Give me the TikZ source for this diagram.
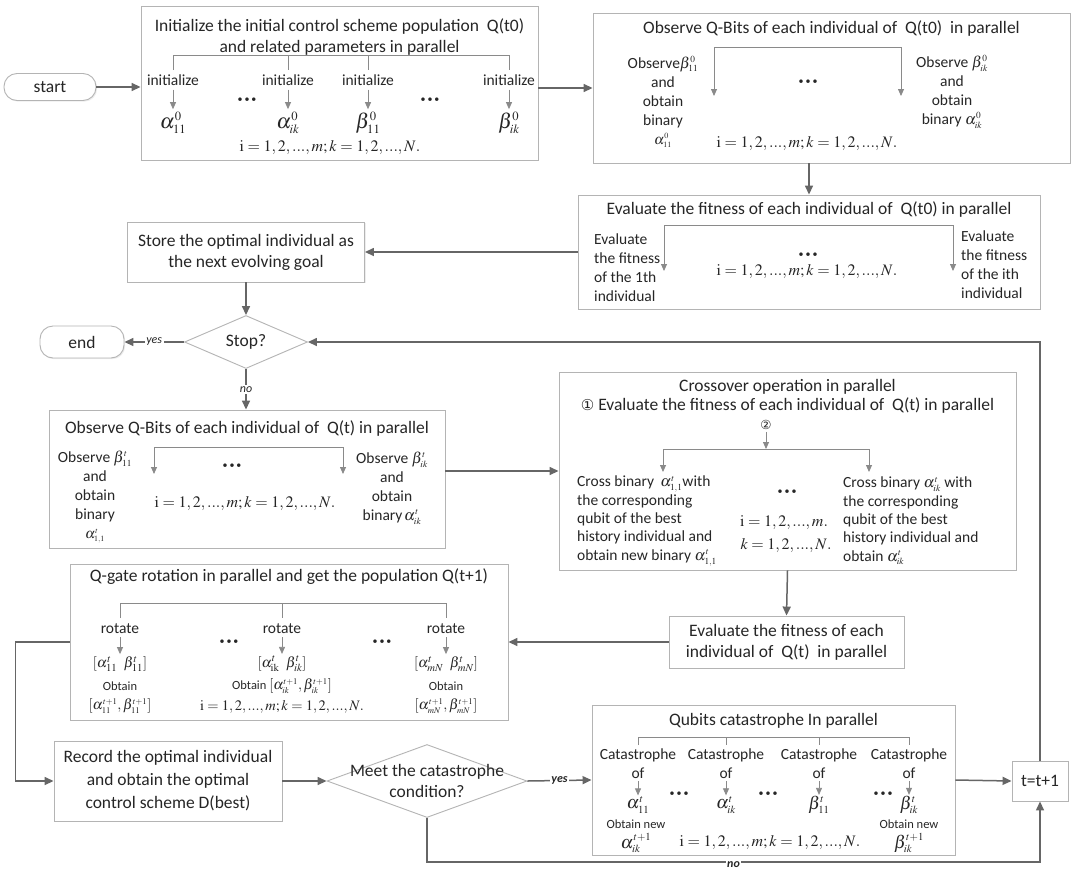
\documentclass[tikz,border=0pt]{standalone}
\usepackage{mathptmx}
\usepackage[no-math]{fontspec}
\setmainfont{Carlito}
\newfontfamily\dejavu{DejaVu Sans}
\usetikzlibrary{arrows.meta,shapes.geometric,shadows}
\definecolor{boxline}{HTML}{B4B4B4}
\definecolor{conn}{HTML}{666666}
\definecolor{inner}{HTML}{8A8A8A}
\definecolor{txt}{HTML}{262626}
\newcommand{\myss}{\scriptscriptstyle}
\newcommand{\mydots}{{\fontsize{10}{10}\selectfont •\hspace{2pt}•\hspace{2pt}•}}
\newcommand{\irange}{$\mathrm{i}=1,2,...,m;k=1,2,...,N.$}
\begin{document}
\begin{tikzpicture}[x=1pt,y=-1pt,
  every node/.style={text=txt, inner sep=0pt},
  bx/.style={draw=boxline, line width=0.9pt, fill=white, drop shadow={shadow xshift=1.2pt, shadow yshift=-1.2pt, fill=black, opacity=0.07}},
  term/.style={bx, rounded corners=13pt},
  dm/.style={diamond, draw=boxline, line width=0.9pt, fill=white},
  ttl/.style={font=\fontsize{17.5}{21}\selectfont, align=center},
  lab/.style={font=\fontsize{15.5}{19}\selectfont, align=center},
  sm/.style={font=\fontsize{12.5}{14}\selectfont, align=center},
  mth/.style={font=\fontsize{16}{18}\selectfont},
  qm/.style={font=\fontsize{14.5}{16}\selectfont},
  big/.style={font=\fontsize{21}{22}\selectfont},
  cbig/.style={font=\fontsize{18}{19}\selectfont},
  cn/.style={draw=conn, line width=1.5pt, -{Triangle[length=9pt,width=8pt]}},
  brk/.style={draw=inner, line width=0.8pt},
  brka/.style={brk, -{Triangle[length=7pt,width=6pt]}},
  brkaa/.style={brk, {Triangle[length=7pt,width=6pt]}-{Triangle[length=7pt,width=6pt]}},
  yl/.style={fill=white, font=\fontsize{12}{12}\selectfont\itshape, inner sep=1.5pt},
]
\fill[white] (0,0) rectangle (1086,876);
\useasboundingbox (0,0) rectangle (1086,876);

% ---------- boxes ----------
\node[term, minimum width=92pt, minimum height=27pt, ttl] (start) at (50,87) {start};
\node[bx, minimum width=397pt, minimum height=154pt] (b1) at (339.5,83) {};
\node[bx, minimum width=477pt, minimum height=150pt] (b2) at (831.5,88) {};
\node[bx, minimum width=462pt, minimum height=114pt] (e1) at (809,252) {};
\node[bx, minimum width=237pt, minimum height=60pt, ttl] (st) at (246,252) {Store the optimal individual as\\the next evolving goal};
\node[dm, minimum width=123pt, minimum height=53pt] (stop) at (246,342) {};
\node[ttl] at (stop) {Stop?};
\node[term, minimum width=84pt, minimum height=32pt, ttl] (end) at (82,342) {end};
\node[bx, minimum width=396pt, minimum height=138pt] (ob) at (247,479) {};
\node[bx, minimum width=457pt, minimum height=198pt] (cr) at (787.5,471) {};
\node[bx, minimum width=235pt, minimum height=52pt, ttl] (e2) at (786.5,642) {Evaluate the fitness of each\\individual of \ Q(t) \ in parallel};
\node[bx, minimum width=438pt, minimum height=156pt] (qg) at (289,642) {};
\node[bx, minimum width=228pt, minimum height=80pt, font=\fontsize{17.5}{23}\selectfont, align=center] (rec) at (168,781) {Record the optimal individual\\and obtain the optimal\\control scheme D(best)};
\node[dm, minimum width=200pt, minimum height=73pt] (meet) at (427,781) {};
\node[ttl] at (meet) {Meet the catastrophe\\condition?};
\node[bx, minimum width=363pt, minimum height=150pt] (cat) at (773.5,780) {};
\node[bx, minimum width=56pt, minimum height=40pt, ttl] (tt) at (1040,781) {t=t+1};

% ---------- box 1 contents ----------
\node[ttl] at (339.5,37) {Initialize the initial control scheme population \ Q(t0)\\and related parameters in parallel};
\draw[brk] (173,70) |- (509,55) -- (509,70);
\draw[brk] (288,55) -- (288,70);
\draw[brk] (368,55) -- (368,70);
\node[lab] (i1) at (173,80) {initialize};
\node[lab] (i2) at (288,80) {initialize};
\node[lab] (i3) at (368,80) {initialize};
\node[lab] (i4) at (509,80) {initialize};
\node[big] (a1) at (173,123) {$\alpha^{\myss 0}_{\myss 11}$};
\node[big] (a2) at (288,123) {$\alpha^{\myss 0}_{\myss ik}$};
\node[big] (a3) at (368,123) {$\beta^{\myss 0}_{\myss 11}$};
\node[big] (a4) at (509,123) {$\beta^{\myss 0}_{\myss ik}$};
\foreach \p in {1,2,3,4}{\draw[brka, shorten <=4pt, shorten >=3pt] (i\p.south) -- (a\p.north);}
\node at (247,100) {\mydots};
\node at (430,100) {\mydots};
\node[mth] at (330,148) {\irange};

% ---------- box 2 contents ----------
\node[ttl] at (831.5,29) {Observe Q-Bits of each individual of \ Q(t0) \ in parallel};
\draw[brkaa] (714,96) |- (901,47) -- (901,96);
\node[lab] at (663,102) {Observe$\beta^{\myss 0}_{\myss 11}$\\and\\obtain\\binary\\{\Large$\alpha^{\myss 0}_{\myss 11}$}};
\node[lab] at (952,92) {Observe $\beta^{\myss 0}_{\myss ik}$\\and\\obtain\\binary $\alpha^{\myss 0}_{\myss ik}$};
\node at (808,82) {\mydots};
\node[mth] at (807,144) {\irange};

% ---------- evaluate 1 contents ----------
\node[ttl] at (809,210) {Evaluate the fitness of each individual of \ Q(t0) in parallel};
\draw[brkaa] (664,271) |- (953,225) -- (953,271);
\node[lab, align=left, anchor=west] at (594,268) {Evaluate\\the fitness\\of the 1th\\individual};
\node[lab, align=left, anchor=west] at (961,265) {Evaluate\\the fitness\\of the ith\\individual};
\node at (808,255) {\mydots};
\node[mth] at (807,272) {\irange};

% ---------- observe Q(t) contents ----------
\node[ttl] at (247,429) {Observe Q-Bits of each individual of \ Q(t) in parallel};
\draw[brkaa] (154,474) |- (343,447) -- (343,474);
\node[lab] at (95,497) {Observe $\beta^{\myss t}_{\myss 11}$\\and\\obtain\\binary\\{\Large$\alpha^{\myss t}_{\myss 1,1}$}};
\node[lab] at (392,488) {Observe $\beta^{\myss t}_{\myss ik}$\\and\\obtain\\binary$\,\alpha^{\myss t}_{\myss ik}$};
\node at (232,466) {\mydots};
\node[mth] at (245,504) {\irange};

% ---------- crossover contents ----------
\node[ttl] at (787.5,387) {Crossover operation in parallel};
\node[ttl] at (787.5,406) {{\dejavu\fontsize{15}{15}\selectfont ①} Evaluate the fitness of each individual of \ Q(t) in parallel};
\node[sm] (n2) at (766,425) {\dejavu ②};
\coordinate (bk) at (766,449);
\draw[brka, shorten <=2pt] (n2.south) -- (bk);
\draw[brkaa] (663,472) |- (869,449) -- (869,472);
\node[lab, align=left, anchor=west, font=\fontsize{15.5}{18.3}\selectfont] at (577,521) {Cross binary \,$\alpha^{\myss t}_{\myss 1,1}$with\\the corresponding\\qubit of the best\\history individual and\\obtain new binary $\alpha^{\myss t}_{\myss 1,1}$};
\node[lab, align=left, anchor=west, font=\fontsize{15.5}{18.3}\selectfont] at (843,521) {Cross binary $\alpha^{\myss t}_{\myss ik}$ with\\the corresponding\\qubit of the best\\history individual and\\obtain $\alpha^{\myss t}_{\myss ik}$};
\node at (787,492) {\mydots};
\node[mth] at (784,523) {$\mathrm{i}=1,2,...,m.$};
\node[mth] at (786,546) {$k=1,2,...,N.$};

% ---------- Q-gate contents ----------
\node[ttl] at (289,577) {Q-gate rotation in parallel and get the population Q(t+1)};
\draw[brk] (120,618) |- (446,603) -- (446,618);
\draw[brk] (282,603) -- (282,618);
\node[lab] (r1) at (120,629) {rotate};
\node[lab] (r2) at (282,629) {rotate};
\node[lab] (r3) at (446,629) {rotate};
\node[qm] (m1) at (120,664) {$[\alpha^{t}_{11}\ \ \beta^{t}_{11}]$};
\node[qm] (m2) at (282,664) {$[\alpha^{t}_{\mathrm{ik}}\ \ \beta^{t}_{ik}]$};
\node[qm] (m3) at (446,664) {$[\alpha^{t}_{mN}\ \ \beta^{t}_{mN}]$};
\foreach \p in {1,2,3}{\draw[brka, shorten <=3pt, shorten >=2pt] (r\p.south) -- (m\p.north);}
\node[sm] at (120,686) {Obtain};
\node[qm] at (120,706) {$[\alpha^{\myss t+1}_{\myss 11},\beta^{\myss t+1}_{\myss 11}]$};
\node[sm] at (282,686) {Obtain {\fontsize{14.5}{16}\selectfont$[\alpha^{\myss t+1}_{\myss ik},\beta^{\myss t+1}_{\myss ik}]$}};
\node[sm] at (446,686) {Obtain};
\node[qm] at (446,706) {$[\alpha^{\myss t+1}_{\myss mN},\beta^{\myss t+1}_{\myss mN}]$};
\node[qm] at (282,707) {\irange};
\node at (229,642) {\mydots};
\node at (382,642) {\mydots};

% ---------- catastrophe contents ----------
\node[ttl] at (773.5,721) {Qubits catastrophe In parallel};
\draw[brk] (638,745) |- (909,737) -- (909,745);
\draw[brk] (726,737) -- (726,745);
\draw[brk] (819,737) -- (819,745);
\node[lab] (c1) at (638,764) {Catastrophe\\of};
\node[lab] (c2) at (726,764) {Catastrophe\\of};
\node[lab] (c3) at (819,764) {Catastrophe\\of};
\node[lab] (c4) at (909,764) {Catastrophe\\of};
\node[cbig] (g1) at (638,805) {$\alpha^{\myss t}_{\myss 11}$};
\node[cbig] (g2) at (726,805) {$\alpha^{\myss t}_{\myss ik}$};
\node[cbig] (g3) at (819,805) {$\beta^{\myss t}_{\myss 11}$};
\node[cbig] (g4) at (909,805) {$\beta^{\myss t}_{\myss ik}$};
\foreach \p in {1,2,3,4}{\draw[brka, shorten <=2pt, shorten >=1pt] (c\p.south) -- (g\p.north);}
\node[sm] at (636,824) {Obtain new};
\node[cbig] at (636,843) {$\alpha^{\myss t+1}_{\myss ik}$};
\node[sm] at (909,824) {Obtain new};
\node[cbig] at (909,843) {$\beta^{\myss t+1}_{\myss ik}$};
\node[mth] at (770,843) {\irange};
\node at (679,794) {\mydots};
\node at (768,794) {\mydots};
\node at (883,794) {\mydots};

% ---------- connectors ----------
\draw[cn] (start.east) -- (start.east -| b1.west);
\draw[cn] (b1.east |- b2.west) -- (b2.west);
\draw[cn] (e1.north |- b2.south) -- (e1.north);
\draw[cn] (e1.west) -- (st.east);
\draw[cn] (st.south) -- (stop.north);
\draw[cn] (stop.west) -- node[yl] {yes} (end.east);
\draw[cn] (stop.south) -- node[yl] {no} (stop.south |- ob.north);
\draw[cn] (ob.east |- cr.west) -- (cr.west);
\draw[cn] (cr.south) -- (e2.north);
\draw[cn] (e2.west) -- (qg.east);
\draw[cn] (qg.west) -- ++(-54,0) |- (rec.west);
\draw[cn] (rec.east) -- (meet.west);
\draw[cn] (meet.east) -- node[yl, font=\fontsize{12}{12}\selectfont\itshape\bfseries] {yes} (cat.west);
\draw[cn] (cat.east) -- (tt.west);
\draw[cn] (meet.south) -- ++(0,44) -| node[pos=0.25, yl, yshift=-3pt, font=\fontsize{12}{12}\selectfont\itshape\bfseries] {no} (tt.south);
\draw[cn] (tt.north) |- (stop.east);
\end{tikzpicture}
\end{document}
